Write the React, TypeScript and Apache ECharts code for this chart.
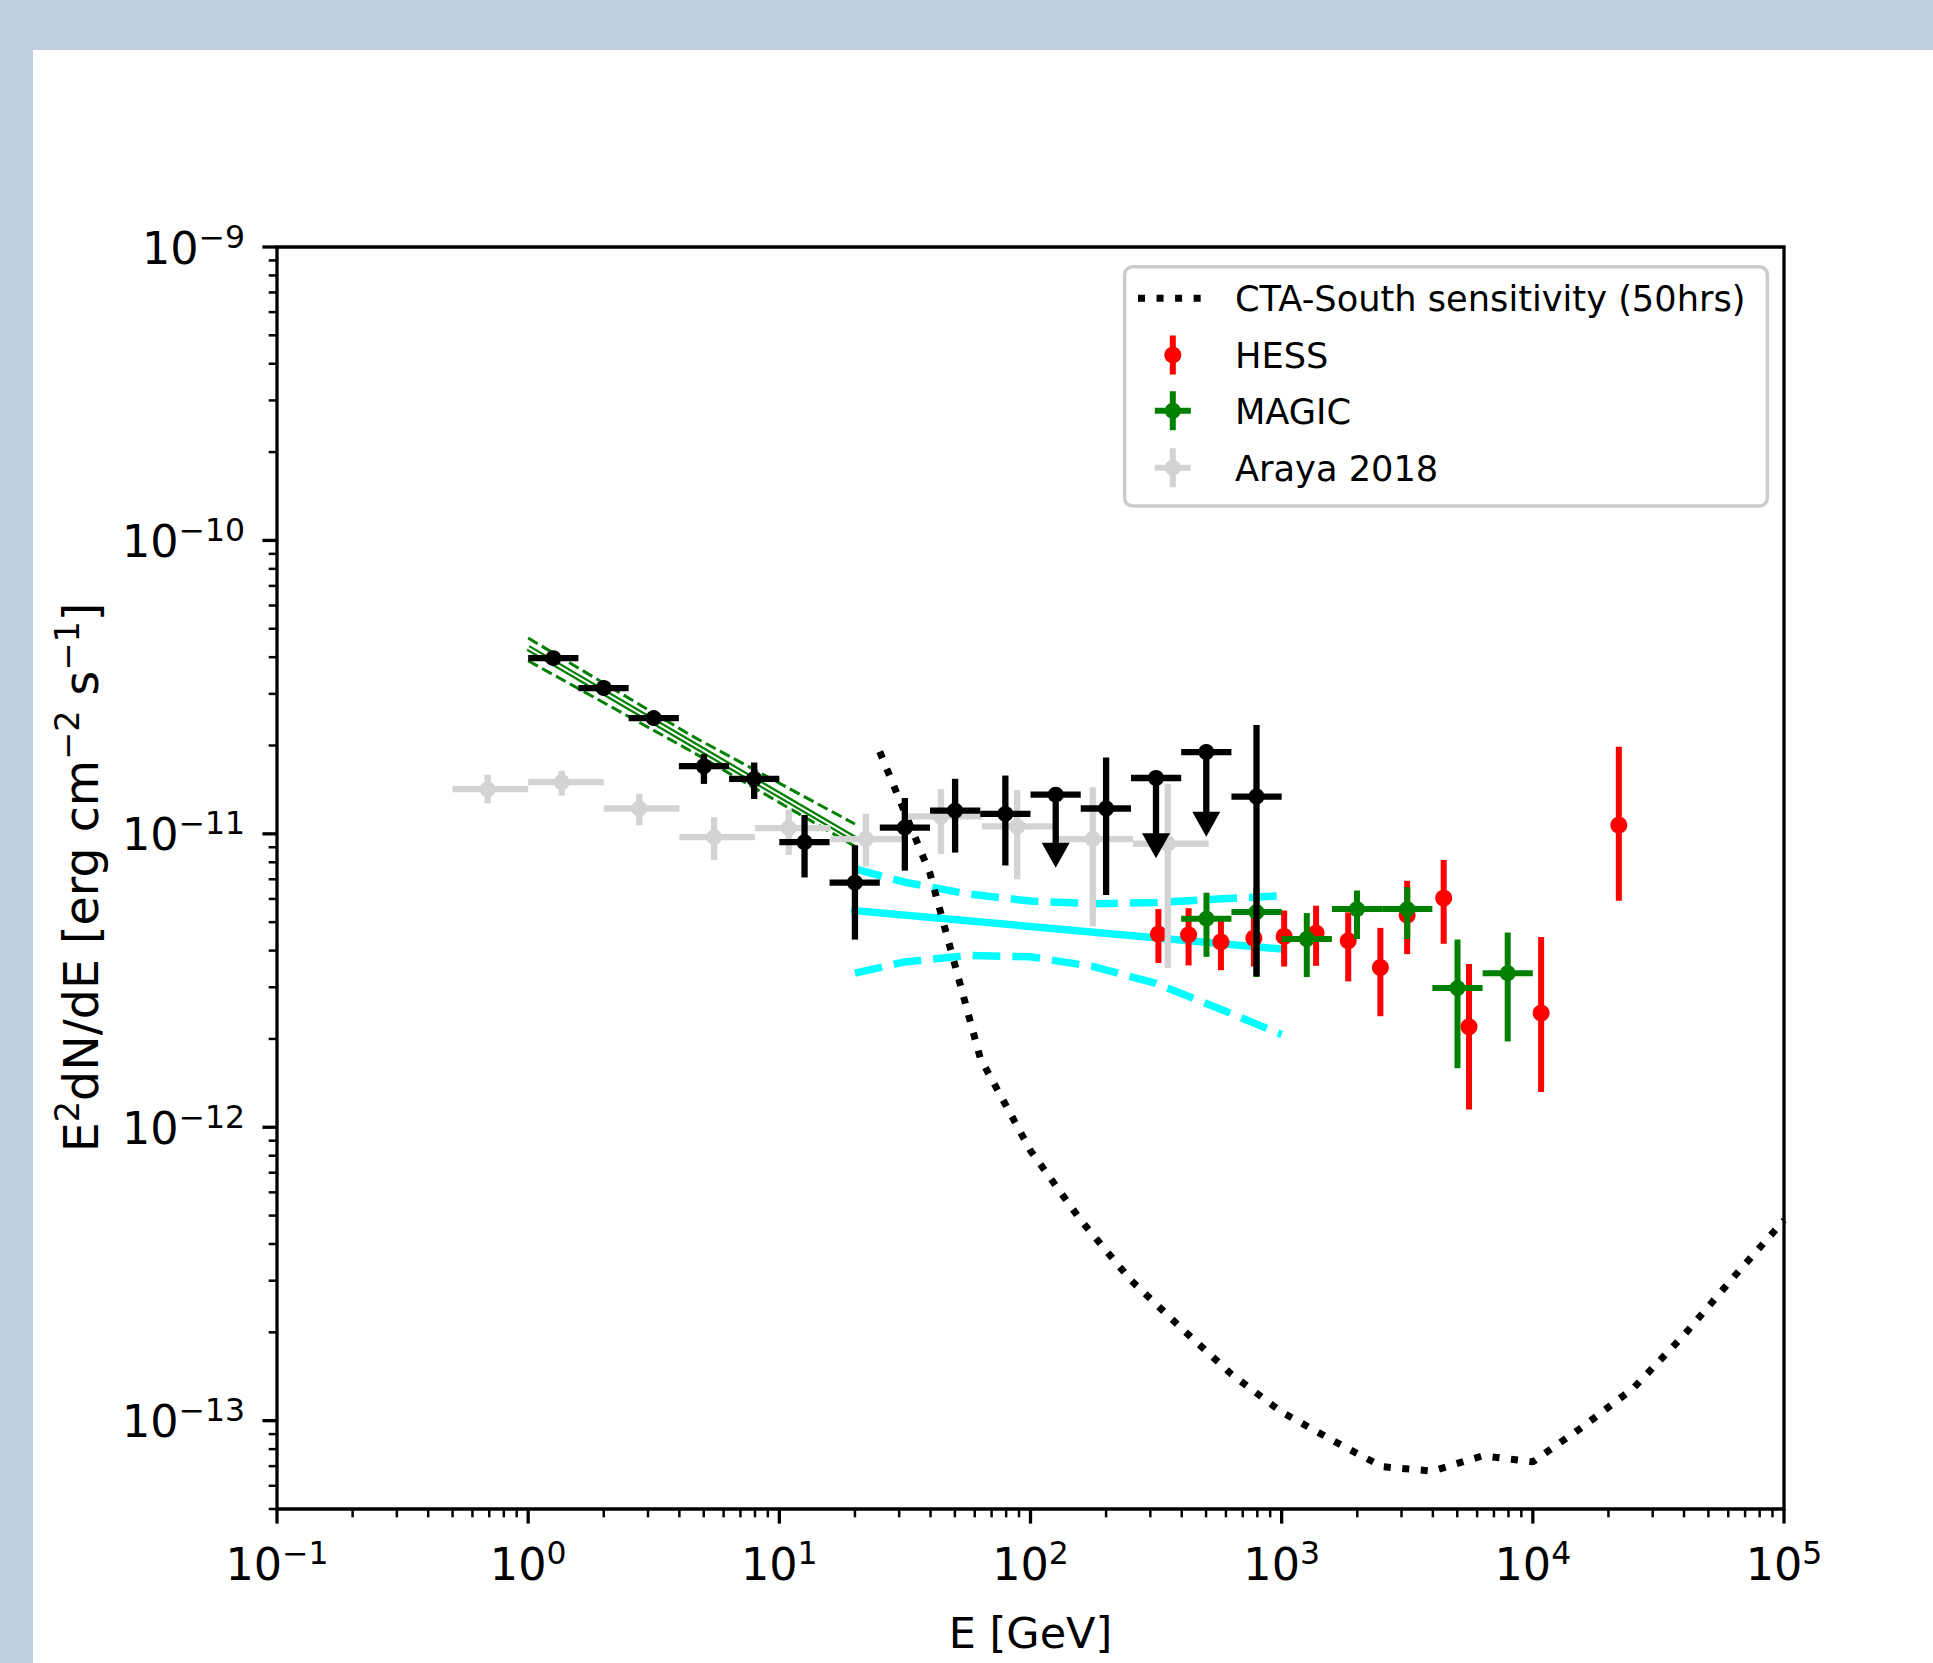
import React, { useEffect, useRef } from 'react';
import * as echarts from 'echarts';

// ---------------- data ----------------
// Fermi-LAT (black): bin centre, bin edges, flux, flux range (for upper limits: arrow tip)
const fermiE = [1.26, 2.0, 3.16, 5.01, 7.94, 12.6, 20.0, 31.6, 50.1, 79.4, 126, 200, 316, 501, 794];
const fermiElo = [1.0, 1.585, 2.512, 3.981, 6.31, 10.0, 15.85, 25.12, 39.81, 63.1, 100, 158.5, 251.2, 398.1, 631];
const fermiEhi = [1.585, 2.512, 3.981, 6.31, 10.0, 15.85, 25.12, 39.81, 63.1, 100, 158.5, 251.2, 398.1, 631, 1000];
const fermiF = [3.97e-11, 3.14e-11, 2.48e-11, 1.70e-11, 1.54e-11, 9.37e-12, 6.82e-12, 1.05e-11, 1.20e-11, 1.17e-11, 1.36e-11, 1.22e-11, 1.55e-11, 1.90e-11, 1.34e-11];
const fermiFlo = [3.85e-11, 3.04e-11, 2.40e-11, 1.48e-11, 1.315e-11, 7.1e-12, 4.36e-12, 7.49e-12, 8.63e-12, 7.8e-12, 7.66e-12, 6.19e-12, 8.26e-12, 9.78e-12, 3.27e-12];
const fermiFhi = [4.09e-11, 3.24e-11, 2.56e-11, 1.87e-11, 1.75e-11, 1.16e-11, 9.15e-12, 1.325e-11, 1.54e-11, 1.58e-11, 1.36e-11, 1.82e-11, 1.55e-11, 1.90e-11, 2.35e-11];
const fermiUL = [0, 0, 0, 0, 0, 0, 0, 0, 0, 0, 1, 0, 1, 1, 0];

// Araya 2018 (grey)
const arayaE = [0.69, 1.36, 2.77, 5.5, 10.9, 22.1, 44, 88.5, 177, 352];
const arayaElo = [0.5, 1, 2, 4, 8, 16, 32, 64, 128, 256];
const arayaEhi = [1, 2, 4, 8, 16, 32, 64, 128, 256, 512];
const arayaF = [1.42e-11, 1.50e-11, 1.22e-11, 9.75e-12, 1.046e-11, 9.6e-12, 1.146e-11, 1.06e-11, 9.6e-12, 9.25e-12];
const arayaFlo = [1.27e-11, 1.35e-11, 1.07e-11, 8.15e-12, 8.47e-12, 7.74e-12, 8.53e-12, 7.0e-12, 4.83e-12, 3.49e-12];
const arayaFhi = [1.59e-11, 1.64e-11, 1.37e-11, 1.14e-11, 1.21e-11, 1.17e-11, 1.42e-11, 1.41e-11, 1.44e-11, 1.48e-11];

// HESS (red)
const hessE = [323, 426, 573, 775, 1023, 1371, 1841, 2472, 3160, 4416, 5570, 10790, 22000];
const hessF = [4.55e-12, 4.53e-12, 4.28e-12, 4.41e-12, 4.47e-12, 4.59e-12, 4.32e-12, 3.5e-12, 5.28e-12, 6.04e-12, 2.2e-12, 2.45e-12, 1.07e-11];
const hessFlo = [3.63e-12, 3.56e-12, 3.43e-12, 3.53e-12, 3.53e-12, 3.55e-12, 3.14e-12, 2.39e-12, 3.89e-12, 4.22e-12, 1.15e-12, 1.32e-12, 5.92e-12];
const hessFhi = [5.54e-12, 5.58e-12, 5.09e-12, 5.22e-12, 5.48e-12, 5.69e-12, 5.4e-12, 4.78e-12, 6.92e-12, 8.15e-12, 3.6e-12, 4.45e-12, 1.98e-11];

// MAGIC (green)
const magicE = [502, 794, 1259, 1995, 3162, 5012, 7943];
const magicElo = [398, 631, 1000, 1585, 2512, 3981, 6310];
const magicEhi = [631, 1000, 1585, 2512, 3981, 6310, 10000];
const magicF = [5.14e-12, 5.41e-12, 4.38e-12, 5.54e-12, 5.54e-12, 2.98e-12, 3.35e-12];
const magicFlo = [3.81e-12, 3.25e-12, 3.25e-12, 4.38e-12, 4.38e-12, 1.59e-12, 1.96e-12];
const magicFhi = [6.3e-12, 6.58e-12, 5.37e-12, 6.41e-12, 6.58e-12, 4.36e-12, 4.61e-12];

// CTA-South sensitivity (50 hrs)
const ctaE = [25.1, 39.8, 63.1, 100, 158, 251, 398, 631, 1000, 1585, 2512, 3981, 6310, 10000, 15849, 25119, 39811, 63096, 100000];
const ctaF = [1.905e-11, 7.33e-12, 1.72e-12, 8.32e-13, 4.84e-13, 3.01e-13, 2.07e-13, 1.44e-13, 1.07e-13, 8.59e-14, 6.97e-14, 6.73e-14, 7.59e-14, 7.24e-14, 9.55e-14, 1.29e-13, 1.95e-13, 3.09e-13, 4.82e-13];

// cyan butterfly (model + band)
const bandE = [20, 31.6, 56.2, 100, 178, 316, 562, 1000];
const bandUp = [7.60e-12, 6.84e-12, 6.24e-12, 5.90e-12, 5.78e-12, 5.83e-12, 6.0e-12, 6.15e-12];
const bandLo = [3.35e-12, 3.66e-12, 3.85e-12, 3.81e-12, 3.53e-12, 3.09e-12, 2.54e-12, 2.07e-12];
const bandModelE = [20, 1000];
const bandModel = [5.47e-12, 4.05e-12];

// green Fermi fit (model + band)
const fitE = [1, 4.47, 20];
const fitModel = [4.30e-11, 2.03e-11, 9.59e-12];
const fitUp = [4.65e-11, 2.16e-11, 1.08e-11];
const fitLo = [3.89e-11, 1.91e-11, 9.06e-12];

// axes
const X_MIN = 0.1;
const X_MAX = 1e5;
const Y_MIN = 5e-14;
const Y_MAX = 1e-9;
const xMajorTicks = [0.1, 1, 10, 100, 1000, 10000, 100000];
const xTickExps = ['\u22121', '0', '1', '2', '3', '4', '5'];
const yMajorTicks = [1e-9, 1e-10, 1e-11, 1e-12, 1e-13];
const yTickExps = ['\u22129', '\u221210', '\u221211', '\u221212', '\u221213'];
const minorMantissas = [2, 3, 4, 5, 6, 7, 8, 9];

const legendLabels = ['CTA-South sensitivity (50hrs)', 'HESS', 'MAGIC', 'Araya 2018'];

// ---------------- styling ----------------
const FONT = '"DejaVu Sans"';
const RED = '#ff0000';
const GREEN = '#008000';
const GREY = '#d3d3d3';
const CYAN = '#00ffff';
const BLACK = '#000000';
const CENTRAL = 0.346; // central baseline offset (em) for DejaVu Sans

let ctx: CanvasRenderingContext2D | null = null;
function measure(t: string, size: number): number {
  if (!ctx) ctx = document.createElement('canvas').getContext('2d');
  if (!ctx) return t.length * size * 0.62;
  ctx.font = `${size}px ${FONT}`;
  return ctx.measureText(t).width;
}

function txt(text: string, x: number, baseline: number, size: number, align: string, extra: any = {}) {
  return {
    type: 'text',
    style: {
      text,
      x,
      y: baseline - CENTRAL * size,
      fill: '#000',
      font: `${size}px ${FONT}`,
      align,
      textAlign: align,
      verticalAlign: 'middle',
      textVerticalAlign: 'middle',
    },
    ...extra,
  };
}

function errRender(color: string, r: number, lw: number) {
  return (params: any, api: any) => {
    const x = api.value(0);
    const y = api.value(1);
    const xlo = api.value(2);
    const xhi = api.value(3);
    const ylo = api.value(4);
    const yhi = api.value(5);
    const ul = api.value(6);
    const c = api.coord([x, y]);
    const ch: any[] = [];
    if (xlo !== xhi) {
      const a = api.coord([xlo, y]);
      const b = api.coord([xhi, y]);
      ch.push({ type: 'line', shape: { x1: a[0], y1: c[1], x2: b[0], y2: c[1] }, style: { stroke: color, lineWidth: lw } });
    }
    if (ul) {
      const t = api.coord([x, ylo]);
      ch.push({ type: 'line', shape: { x1: c[0], y1: c[1], x2: c[0], y2: t[1] - 24 }, style: { stroke: color, lineWidth: lw } });
      ch.push({
        type: 'polygon',
        shape: { points: [[c[0] - 14, t[1] - 25], [c[0] + 14, t[1] - 25], [c[0], t[1]]] },
        style: { fill: color },
      });
    } else if (ylo !== yhi) {
      const a = api.coord([x, ylo]);
      const b = api.coord([x, yhi]);
      ch.push({ type: 'line', shape: { x1: c[0], y1: a[1], x2: c[0], y2: b[1] }, style: { stroke: color, lineWidth: lw } });
    }
    ch.push({ type: 'circle', shape: { cx: c[0], cy: c[1], r }, style: { fill: color } });
    return { type: 'group', children: ch };
  };
}

function lineSeries(xs: number[], ys: number[], color: string, width: number, dash: any, cap = 'butt') {
  return {
    type: 'line',
    data: xs.map((x, i) => [x, ys[i]]),
    symbol: 'none',
    silent: true,
    animation: false,
    lineStyle: { color, width, type: dash, cap },
    z: 2,
  };
}

function buildOption() {
  const fermiData = fermiE.map((e, i) => [e, fermiF[i], fermiElo[i], fermiEhi[i], fermiFlo[i], fermiFhi[i], fermiUL[i]]);
  const arayaData = arayaE.map((e, i) => [e, arayaF[i], arayaElo[i], arayaEhi[i], arayaFlo[i], arayaFhi[i], 0]);
  const hessData = hessE.map((e, i) => [e, hessF[i], e, e, hessFlo[i], hessFhi[i], 0]);
  const magicData = magicE.map((e, i) => [e, magicF[i], magicElo[i], magicEhi[i], magicFlo[i], magicFhi[i], 0]);

  const xTickData: number[][] = [];
  xMajorTicks.forEach((v, i) => xTickData.push([v, Y_MIN, 1, i]));
  for (let d = -1; d < 5; d++) minorMantissas.forEach((m) => xTickData.push([m * Math.pow(10, d), Y_MIN, 0, -1]));
  const yTickData: number[][] = [];
  yMajorTicks.forEach((v, i) => yTickData.push([X_MIN, v, 1, i]));
  for (let d = -14; d < -9; d++)
    minorMantissas.forEach((m) => {
      const v = m * Math.pow(10, d);
      if (v >= Y_MIN * 0.999 && v < Y_MAX) yTickData.push([X_MIN, v, 0, -1]);
    });

  const TICK_MAJ = 3.3;
  const TICK_MIN = 2.5;

  const xTickRender = (params: any, api: any) => {
    const v = api.value(0);
    const major = api.value(2) === 1;
    const idx = api.value(3);
    const p = api.coord([v, Y_MIN]);
    const len = major ? 14.6 : 8.3;
    const ch: any[] = [
      { type: 'line', shape: { x1: p[0], y1: p[1], x2: p[0], y2: p[1] + len }, style: { stroke: '#000', lineWidth: major ? TICK_MAJ : TICK_MIN } },
    ];
    if (major) {
      const exp = xTickExps[idx];
      const w10 = measure('10', 44.5);
      const ws = measure(exp, 31.5);
      const left = p[0] - (w10 + ws) / 2;
      const base = p[1] + 71;
      ch.push(txt('10', left, base, 44.5, 'left'));
      ch.push(txt(exp, left + w10, base - 16, 31.5, 'left'));
    }
    return { type: 'group', children: ch };
  };

  const yTickRender = (params: any, api: any) => {
    const v = api.value(1);
    const major = api.value(2) === 1;
    const idx = api.value(3);
    const p = api.coord([X_MIN, v]);
    const len = major ? 14.6 : 8.3;
    const ch: any[] = [
      { type: 'line', shape: { x1: p[0] - len, y1: p[1], x2: p[0], y2: p[1] }, style: { stroke: '#000', lineWidth: major ? TICK_MAJ : TICK_MIN } },
    ];
    if (major) {
      const exp = yTickExps[idx];
      const ws = measure(exp, 31.5);
      const right = p[0] - 32;
      const base = p[1] + 16.5;
      ch.push(txt(exp, right, base - 16, 31.5, 'right'));
      ch.push(txt('10', right - ws, base, 44.5, 'right'));
    }
    return { type: 'group', children: ch };
  };

  // y-axis title built from pieces (normal + superscripts), rotated
  const yl = 47.5;
  const ys = 33.5;
  const pieces: [string, boolean][] = [
    ['E', false], ['2', true], ['dN/dE [erg cm', false], ['\u22122', true], [' s', false], ['\u22121', true], [']', false],
  ];
  const widths = pieces.map(([t, s]) => measure(t, s ? ys : yl));
  const totalW = widths.reduce((a, b) => a + b, 0);
  let cur = -totalW / 2;
  const yLabelChildren = pieces.map(([t, s], i) => {
    const el = txt(t, cur, s ? -19 : 0, s ? ys : yl, 'left');
    cur += widths[i];
    return el;
  });

  // legend
  const LX = 1172.8;
  const rows = [298.3, 355, 410.7, 467.7];
  const legendEls: any[] = [
    {
      type: 'rect',
      shape: { x: 1124.6, y: 266.7, width: 642.8, height: 239.3, r: 8 },
      style: { fill: 'rgba(255,255,255,0.8)', stroke: '#cccccc', lineWidth: 3.5 },
      z: 100,
    },
    {
      type: 'line',
      shape: { x1: 1138, y1: rows[0], x2: 1208, y2: rows[0] },
      style: { stroke: BLACK, lineWidth: 7, lineDash: [7, 11.55] },
      z: 101,
    },
    { type: 'line', shape: { x1: LX, y1: rows[1] - 19.5, x2: LX, y2: rows[1] + 19.5 }, style: { stroke: RED, lineWidth: 6 }, z: 101 },
    { type: 'circle', shape: { cx: LX, cy: rows[1], r: 8.5 }, style: { fill: RED }, z: 102 },
    { type: 'line', shape: { x1: LX, y1: rows[2] - 19.5, x2: LX, y2: rows[2] + 19.5 }, style: { stroke: GREEN, lineWidth: 6 }, z: 101 },
    { type: 'line', shape: { x1: LX - 18, y1: rows[2], x2: LX + 18, y2: rows[2] }, style: { stroke: GREEN, lineWidth: 6 }, z: 101 },
    { type: 'circle', shape: { cx: LX, cy: rows[2], r: 8 }, style: { fill: GREEN }, z: 102 },
    { type: 'line', shape: { x1: LX, y1: rows[3] - 19.5, x2: LX, y2: rows[3] + 19.5 }, style: { stroke: GREY, lineWidth: 6 }, z: 101 },
    { type: 'line', shape: { x1: LX - 18, y1: rows[3], x2: LX + 18, y2: rows[3] }, style: { stroke: GREY, lineWidth: 6 }, z: 101 },
    { type: 'circle', shape: { cx: LX, cy: rows[3], r: 8 }, style: { fill: GREY }, z: 102 },
  ];
  legendLabels.forEach((l, i) => legendEls.push({ ...txt(l, 1235, rows[i] + 12.6, 35.2, 'left'), z: 102 }));

  return {
    animation: false,
    backgroundColor: 'transparent',
    grid: { left: 277, top: 247, width: 1507, height: 1262, show: true, borderColor: '#000', borderWidth: 3.3, backgroundColor: 'transparent' },
    xAxis: {
      type: 'log', logBase: 10, min: X_MIN, max: X_MAX,
      axisLine: { show: false }, axisTick: { show: false }, axisLabel: { show: false }, splitLine: { show: false },
    },
    yAxis: {
      type: 'log', logBase: 10, min: Y_MIN, max: Y_MAX,
      axisLine: { show: false }, axisTick: { show: false }, axisLabel: { show: false }, splitLine: { show: false },
    },
    graphic: [
      ...legendEls,
      { ...txt('E [GeV]', 1030.5, 1648, 43, 'center'), z: 50 },
      { type: 'group', x: 98, y: 877.5, rotation: Math.PI / 2, children: yLabelChildren, z: 50 },
    ],
    series: [
      lineSeries(bandE, bandUp, CYAN, 7.5, [27.75, 12]),
      lineSeries(bandE, bandLo, CYAN, 7.5, [27.75, 12]),
      lineSeries(bandModelE, bandModel, CYAN, 7.5, 'solid', 'square'),
      lineSeries(fitE, fitUp, GREEN, 3, [11.1, 4.8]),
      lineSeries(fitE, fitLo, GREEN, 3, [11.1, 4.8]),
      lineSeries(fitE, fitModel, GREEN, 6.5, 'solid'),
      lineSeries(fitE, fitModel, '#ffffff', 2, 'solid'),
      lineSeries(ctaE, ctaF, BLACK, 7, [7, 11.55]),
      { type: 'custom', silent: true, data: hessData, renderItem: errRender(RED, 8.5, 6), z: 3 },
      { type: 'custom', silent: true, data: magicData, renderItem: errRender(GREEN, 8, 6), z: 3 },
      { type: 'custom', silent: true, data: arayaData, renderItem: errRender(GREY, 8, 6.3), z: 3 },
      { type: 'custom', silent: true, data: fermiData, renderItem: errRender(BLACK, 8, 6.3), z: 3 },
      { type: 'custom', silent: true, data: xTickData, renderItem: xTickRender, z: 4, clip: false },
      { type: 'custom', silent: true, data: yTickData, renderItem: yTickRender, z: 4, clip: false },
    ],
  };
}

export default function App() {
  const ref = useRef<HTMLDivElement>(null);
  useEffect(() => {
    if (!ref.current) return;
    const chart = echarts.init(ref.current, null, { renderer: 'svg' });
    chart.setOption(buildOption() as any);
    return () => chart.dispose();
  }, []);
  return (
    <div style={{ position: 'absolute', left: 0, top: 0, width: 1933, height: 1663, background: '#bfcfe0', overflow: 'hidden' }}>
      <div style={{ position: 'absolute', left: 33, top: 50, width: 1900, height: 1613, background: '#ffffff' }} />
      <div ref={ref} style={{ position: 'absolute', left: 0, top: 0, width: 1933, height: 1663 }} />
    </div>
  );
}
